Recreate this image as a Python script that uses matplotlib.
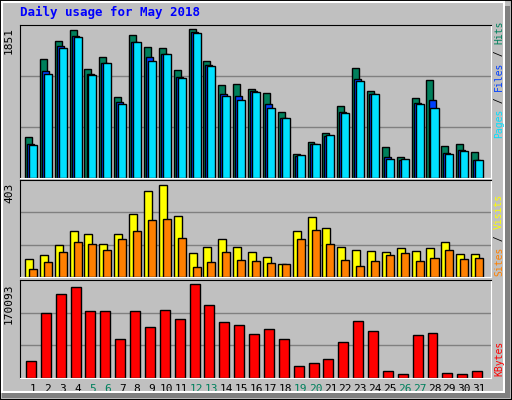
import matplotlib
matplotlib.use("Agg")
import matplotlib.pyplot as plt
from matplotlib.patches import Rectangle

# --------------------------------------------------------------------------- #
# data
# --------------------------------------------------------------------------- #
days = list(range(1, 32))
weekend = [5, 6, 12, 13, 19, 20, 26, 27]

hits = [504, 1473, 1700, 1838, 1360, 1498, 1007, 1775, 1624, 1612, 1347, 1851, 1460, 1158, 1171, 1108,
        1058, 818, 302, 453, 554, 894, 1372, 1083, 390, 264, 995, 1221, 403, 428, 327]
files = [428, 1335, 1637, 1763, 1297, 1423, 944, 1687, 1498, 1536, 1259, 1813, 1410, 1045, 1020, 1083,
         919, 743, 277, 428, 516, 818, 1234, 1045, 264, 227, 932, 969, 315, 353, 227]
pages = [415, 1297, 1612, 1750, 1284, 1423, 919, 1687, 1460, 1536, 1246, 1800, 1397, 1020, 969, 1070,
         869, 743, 290, 428, 529, 806, 1209, 1045, 239, 239, 919, 869, 302, 340, 227]
visits = [79, 96, 140, 201, 188, 145, 188, 276, 377, 403, 267, 105, 131, 166, 131, 110,
          88, 57, 201, 263, 215, 131, 118, 114, 110, 127, 114, 127, 153, 101, 101]
sites = [35, 66, 110, 153, 145, 118, 166, 201, 250, 254, 171, 44, 66, 110, 74, 70,
         61, 57, 166, 206, 145, 74, 48, 70, 96, 105, 70, 83, 118, 79, 83]
kbytes = [31040, 117950, 151470, 164510, 121680, 121680, 71390, 121680, 91880, 123540, 106780, 170093,
          132850, 101190, 95600, 78840, 88150, 71390, 21110, 26690, 34140, 65800, 103050, 84430,
          11800, 8070, 76980, 80700, 9930, 8070, 11800]

BG = "#C0C0C0"
GREEN = "#00805C"
MONO = "DejaVu Sans Mono"
W, H = 512, 400

fig = plt.figure(figsize=(W / 100, H / 100), dpi=100, facecolor=BG)
# raised frame
fig.patches.append(Rectangle((0, 0), 1, 1, transform=fig.transFigure, fill=False,
                             edgecolor="black", lw=1.5))
fig.patches.append(Rectangle((2 / W, 8 / H), (W - 10) / W, (H - 10) / H, transform=fig.transFigure,
                             fill=False, edgecolor="white", lw=1.5))
fig.patches.append(Rectangle((505 / W, 2 / H), 5 / W, (H - 8) / H, transform=fig.transFigure,
                             color="#808080", lw=0))
fig.patches.append(Rectangle((2 / W, 2 / H), (W - 4) / W, 5 / H, transform=fig.transFigure,
                             color="#808080", lw=0))


def make_ax(top, bottom):
    ax = fig.add_axes([20 / W, 1 - bottom / H, 471 / W, (bottom - top) / H])
    ax.set_facecolor(BG)
    ax.set_xlim(0.126, 31.8)
    for s in ax.spines.values():
        s.set_color("black")
    ax.spines["bottom"].set_color("white")
    ax.spines["right"].set_color("white")
    ax.set_xticks([])
    ax.set_yticks([])
    return ax


def grid3(ax, top):
    for f in (1 / 3, 2 / 3):
        ax.axhline(top * f, color="#808080", lw=1, zorder=0)


def bars(ax, left, right, vals, color):
    ax.bar([d + left for d in days], vals, width=right - left, align="edge",
           color=color, edgecolor="black", lw=1, zorder=2)


# top panel: hits / files / pages
ax1 = make_ax(25, 178)
top1 = max(hits) * 151 / 147
ax1.set_ylim(0, top1)
grid3(ax1, top1)
bars(ax1, -0.54, -0.07, hits, GREEN)
bars(ax1, -0.40, 0.07, files, "#0040FF")
bars(ax1, -0.27, 0.27, pages, "#00E0FF")

# middle panel: visits / sites
ax2 = make_ax(180, 277)
top2 = max(visits) * 97 / 92
ax2.set_ylim(0, top2)
grid3(ax2, top2)
bars(ax2, -0.54, 0.0, visits, "#FFFF00")
bars(ax2, -0.27, 0.27, sites, "#FF8000")

# bottom panel: kbytes
ax3 = make_ax(280, 378)
top3 = max(kbytes) * 98 / 94
ax3.set_ylim(0, top3)
grid3(ax3, top3)
bars(ax3, -0.47, 0.2, kbytes, "#FF0000")
ax3.set_xticks(days)
ax3.set_xticklabels([str(d) for d in days], family=MONO, fontsize=8)
ax3.tick_params(length=0, pad=4)
for lbl, d in zip(ax3.get_xticklabels(), days):
    lbl.set_color(GREEN if d in weekend else "black")

# texts
fig.text(20 / W, 1 - 12 / H, "Daily usage for May 2018", color="#0000FF", family=MONO,
         fontsize=9, fontweight="bold", va="center")
for y, t in ((27, str(max(hits))), (183, str(max(visits))), (283, str(max(kbytes)))):
    fig.text(9 / W, 1 - y / H, t, rotation=90, family=MONO, fontsize=8, va="top", ha="center")


def side_label(parts, y_bottom):
    y = 1 - y_bottom / H
    for txt, col in parts:
        t = fig.text(499 / W, y, txt, rotation=90, family=MONO, fontsize=7, color=col,
                     ha="center", va="bottom")
        fig.canvas.draw()
        bb = t.get_window_extent()
        y += bb.height / H


side_label([("Pages", "#00E0FF"), (" / ", "black"), ("Files", "#0040FF"),
            (" / ", "black"), ("Hits", GREEN)], 138)
side_label([("Sites", "#FF8000"), (" / ", "black"), ("Visits", "#FFFF00")], 276)
side_label([("KBytes", "#FF0000")], 376)

fig.savefig("out.png", dpi=100, facecolor=BG)
